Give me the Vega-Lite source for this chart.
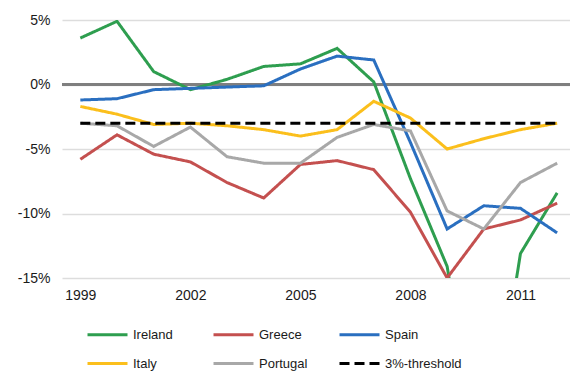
{
  "$schema": "https://vega.github.io/schema/vega-lite/v6.json",
  "autosize": "none",
  "width": 508,
  "height": 258,
  "padding": {"left": 62, "top": 20, "right": 0, "bottom": 100},
  "background": "white",
  "config": {
    "font": "Liberation Sans",
    "view": {"stroke": null},
    "axis": {"labelFont": "Liberation Sans", "labelColor": "#1a1a1a", "labelFontSize": 14},
    "legend": {
      "title": null,
      "orient": "none",
      "direction": "horizontal",
      "legendX": 24,
      "legendY": 293,
      "columns": 3,
      "gridAlign": "all",
      "columnPadding": -3,
      "rowPadding": -20,
      "symbolType": "stroke",
      "symbolSize": 1600,
      "symbolStrokeWidth": 3,
      "labelFontSize": 13,
      "labelFont": "Liberation Sans",
      "labelColor": "#1a1a1a",
      "labelOffset": 4
    }
  },
  "data": {
    "values": [
      {"year": 1999, "series": "Ireland", "value": 3.6},
      {"year": 2000, "series": "Ireland", "value": 4.9},
      {"year": 2001, "series": "Ireland", "value": 1.0},
      {"year": 2002, "series": "Ireland", "value": -0.4},
      {"year": 2003, "series": "Ireland", "value": 0.4},
      {"year": 2004, "series": "Ireland", "value": 1.4},
      {"year": 2005, "series": "Ireland", "value": 1.6},
      {"year": 2006, "series": "Ireland", "value": 2.8},
      {"year": 2007, "series": "Ireland", "value": 0.2},
      {"year": 2008, "series": "Ireland", "value": -7.3},
      {"year": 2009, "series": "Ireland", "value": -14.1},
      {"year": 2010, "series": "Ireland", "value": -30.9},
      {"year": 2011, "series": "Ireland", "value": -13.1},
      {"year": 2012, "series": "Ireland", "value": -8.4},
      {"year": 1999, "series": "Greece", "value": -5.8},
      {"year": 2000, "series": "Greece", "value": -3.9},
      {"year": 2001, "series": "Greece", "value": -5.4},
      {"year": 2002, "series": "Greece", "value": -6.0},
      {"year": 2003, "series": "Greece", "value": -7.6},
      {"year": 2004, "series": "Greece", "value": -8.8},
      {"year": 2005, "series": "Greece", "value": -6.2},
      {"year": 2006, "series": "Greece", "value": -5.9},
      {"year": 2007, "series": "Greece", "value": -6.6},
      {"year": 2008, "series": "Greece", "value": -9.9},
      {"year": 2009, "series": "Greece", "value": -15.0},
      {"year": 2010, "series": "Greece", "value": -11.2},
      {"year": 2011, "series": "Greece", "value": -10.5},
      {"year": 2012, "series": "Greece", "value": -9.2},
      {"year": 1999, "series": "Spain", "value": -1.2},
      {"year": 2000, "series": "Spain", "value": -1.1},
      {"year": 2001, "series": "Spain", "value": -0.4},
      {"year": 2002, "series": "Spain", "value": -0.3},
      {"year": 2003, "series": "Spain", "value": -0.2},
      {"year": 2004, "series": "Spain", "value": -0.1},
      {"year": 2005, "series": "Spain", "value": 1.2},
      {"year": 2006, "series": "Spain", "value": 2.2},
      {"year": 2007, "series": "Spain", "value": 1.9},
      {"year": 2008, "series": "Spain", "value": -4.5},
      {"year": 2009, "series": "Spain", "value": -11.2},
      {"year": 2010, "series": "Spain", "value": -9.4},
      {"year": 2011, "series": "Spain", "value": -9.6},
      {"year": 2012, "series": "Spain", "value": -11.5},
      {"year": 1999, "series": "Italy", "value": -1.7},
      {"year": 2000, "series": "Italy", "value": -2.3},
      {"year": 2001, "series": "Italy", "value": -3.1},
      {"year": 2002, "series": "Italy", "value": -3.0},
      {"year": 2003, "series": "Italy", "value": -3.2},
      {"year": 2004, "series": "Italy", "value": -3.5},
      {"year": 2005, "series": "Italy", "value": -4.0},
      {"year": 2006, "series": "Italy", "value": -3.5},
      {"year": 2007, "series": "Italy", "value": -1.3},
      {"year": 2008, "series": "Italy", "value": -2.6},
      {"year": 2009, "series": "Italy", "value": -5.0},
      {"year": 2010, "series": "Italy", "value": -4.2},
      {"year": 2011, "series": "Italy", "value": -3.5},
      {"year": 2012, "series": "Italy", "value": -3.0},
      {"year": 1999, "series": "Portugal", "value": -3.0},
      {"year": 2000, "series": "Portugal", "value": -3.2},
      {"year": 2001, "series": "Portugal", "value": -4.8},
      {"year": 2002, "series": "Portugal", "value": -3.3},
      {"year": 2003, "series": "Portugal", "value": -5.6},
      {"year": 2004, "series": "Portugal", "value": -6.1},
      {"year": 2005, "series": "Portugal", "value": -6.1},
      {"year": 2006, "series": "Portugal", "value": -4.1},
      {"year": 2007, "series": "Portugal", "value": -3.1},
      {"year": 2008, "series": "Portugal", "value": -3.6},
      {"year": 2009, "series": "Portugal", "value": -9.8},
      {"year": 2010, "series": "Portugal", "value": -11.2},
      {"year": 2011, "series": "Portugal", "value": -7.6},
      {"year": 2012, "series": "Portugal", "value": -6.1},
      {"year": 1999, "series": "3%-threshold", "value": -3},
      {"year": 2012, "series": "3%-threshold", "value": -3}
    ]
  },
  "encoding": {
    "x": {
      "field": "year",
      "type": "quantitative",
      "scale": {"domain": [1998.5, 2012.35], "nice": false, "zero": false},
      "axis": {
        "title": null,
        "values": [1999, 2002, 2005, 2008, 2011],
        "format": "d",
        "grid": false,
        "domain": false,
        "ticks": false,
        "labelPadding": 10
      }
    },
    "y": {
      "field": "value",
      "type": "quantitative",
      "scale": {"domain": [-15, 5], "nice": false, "zero": false},
      "axis": {
        "title": null,
        "values": [-15, -10, -5, 0, 5],
        "labelExpr": "datum.value + '%'",
        "grid": true,
        "gridColor": "#dddddd",
        "gridWidth": 1.5,
        "domain": false,
        "ticks": false,
        "labelPadding": 12
      }
    }
  },
  "layer": [
    {
      "mark": {"type": "rule", "color": "#7f7f7f", "strokeWidth": 2.5},
      "encoding": {"y": {"datum": 0}, "x": {"value": 0}, "x2": {"value": 508}}
    },
    {
      "mark": {"type": "line", "strokeWidth": 3, "clip": true},
      "encoding": {
        "color": {
          "field": "series",
          "type": "nominal",
          "scale": {
            "domain": ["Ireland", "Greece", "Spain", "Italy", "Portugal", "3%-threshold"],
            "range": ["#2e9e4f", "#c4504f", "#2a6fc0", "#fbbf1c", "#a8a8a8", "#000000"]
          }
        },
        "strokeDash": {
          "field": "series",
          "type": "nominal",
          "scale": {
            "domain": ["Ireland", "Greece", "Spain", "Italy", "Portugal", "3%-threshold"],
            "range": [[1, 0], [1, 0], [1, 0], [1, 0], [1, 0], [10, 5]]
          }
        }
      }
    }
  ]
}
